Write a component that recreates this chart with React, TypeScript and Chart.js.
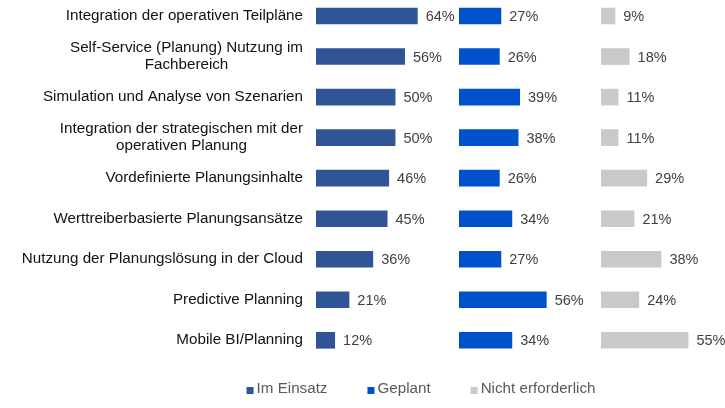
import React, { useEffect, useRef } from "react";
import { Chart, registerables } from "chart.js";

Chart.register(...registerables);

const categories: (string | string[])[] = [
  "Integration der operativen Teilpläne",
  ["Self-Service (Planung) Nutzung im", "Fachbereich"],
  "Simulation und Analyse von Szenarien",
  ["Integration der strategischen mit der", "operativen Planung"],
  "Vordefinierte Planungsinhalte",
  "Werttreiberbasierte Planungsansätze",
  "Nutzung der Planungslösung in der Cloud",
  "Predictive Planning",
  "Mobile BI/Planning",
];

const imEinsatz = [64, 56, 50, 50, 46, 45, 36, 21, 12];
const geplant = [27, 26, 39, 38, 26, 34, 27, 56, 34];
const nichtErforderlich = [9, 18, 11, 11, 29, 21, 38, 24, 55];

const seriesNames = ["Im Einsatz", "Geplant", "Nicht erforderlich"];
const seriesColors = ["#2F5597", "#0052CC", "#C8C9CB"];

const FONT = '"Liberation Sans", Arial, Helvetica, sans-serif';

const categoryLabelPlugin = {
  id: "categoryLabels",
  afterDraw(chart: any) {
    const ctx = chart.ctx;
    const yScale = chart.scales.y;
    const right = chart.chartArea.left - 13;
    const lineH = 17;
    ctx.save();
    ctx.font = `15.2px ${FONT}`;
    ctx.fillStyle = "#111111";
    ctx.textBaseline = "middle";
    ctx.textAlign = "center";
    categories.forEach((lab, i) => {
      const lines = Array.isArray(lab) ? lab : [lab];
      const w = Math.max(...lines.map((l) => ctx.measureText(l).width));
      const cx = right - w / 2;
      const cy = yScale.getPixelForValue(i);
      const y0 = cy - ((lines.length - 1) * lineH) / 2;
      lines.forEach((l, k) => ctx.fillText(l, cx, y0 + k * lineH));
    });
    ctx.restore();
  },
};

const dataLabelPlugin = {
  id: "dataLabels",
  afterDatasetsDraw(chart: any) {
    const ctx = chart.ctx;
    ctx.save();
    ctx.font = `14.5px ${FONT}`;
    ctx.fillStyle = "#404040";
    ctx.textBaseline = "middle";
    ctx.textAlign = "left";
    chart.data.datasets.forEach((ds: any, i: number) => {
      const meta = chart.getDatasetMeta(i);
      meta.data.forEach((bar: any, j: number) => {
        const { x, y } = bar.getProps(["x", "y"], true);
        ctx.fillText(`${ds.data[j]}%`, x + 8, y + 1);
      });
    });
    ctx.restore();
  },
};

const legendPlugin = {
  id: "customLegend",
  afterDraw(chart: any) {
    const ctx = chart.ctx;
    const centerX = 421;
    const baseline = 393;
    const box = 7;
    const gap = 3;
    const spacing = 40;
    ctx.save();
    ctx.font = `15.2px ${FONT}`;
    const widths = chart.data.datasets.map((ds: any) => ctx.measureText(ds.label).width);
    const total =
      widths.reduce((a: number, b: number) => a + b, 0) +
      widths.length * (box + gap) +
      (widths.length - 1) * spacing;
    let x = centerX - total / 2;
    ctx.textBaseline = "alphabetic";
    ctx.textAlign = "left";
    chart.data.datasets.forEach((ds: any, i: number) => {
      ctx.fillStyle = ds.backgroundColor;
      ctx.fillRect(x, baseline - 6, box, box);
      x += box + gap;
      ctx.fillStyle = "#595959";
      ctx.fillText(ds.label, x, baseline);
      x += widths[i] + spacing;
    });
    ctx.restore();
  },
};

export default function App() {
  const ref = useRef<HTMLCanvasElement | null>(null);

  useEffect(() => {
    document.body.style.margin = "0";
    const values = [imEinsatz, geplant, nichtErforderlich];
    const chart = new Chart(ref.current as HTMLCanvasElement, {
      type: "bar",
      data: {
        labels: categories as any,
        datasets: values.map((v, i) => ({
          label: seriesNames[i],
          data: v,
          backgroundColor: seriesColors[i],
          xAxisID: `x${i + 1}`,
          yAxisID: "y",
          grouped: false,
          clip: false as any,
          barPercentage: 0.41,
          categoryPercentage: 1,
        })),
      },
      options: {
        indexAxis: "y",
        animation: false,
        responsive: false,
        layout: { padding: { left: 316, right: 0, top: 16, bottom: 67.7 } },
        plugins: {
          legend: { display: false },
          tooltip: { enabled: false },
        },
        scales: {
          y: {
            type: "category",
            display: false,
            offset: false,
            grid: { display: false },
          },
          x1: {
            type: "linear",
            position: "bottom",
            display: false,
            min: 0,
            max: 90,
            stack: "panels",
            stackWeight: 143,
          },
          x2: {
            type: "linear",
            position: "bottom",
            display: false,
            min: 0,
            max: 90.7,
            stack: "panels",
            stackWeight: 142,
          },
          x3: {
            type: "linear",
            position: "bottom",
            display: false,
            min: 0,
            max: 78,
            stack: "panels",
            stackWeight: 124,
          },
        } as any,
      },
      plugins: [categoryLabelPlugin, dataLabelPlugin, legendPlugin],
    });
    return () => chart.destroy();
  }, []);

  return (
    <div style={{ width: 725, height: 408, background: "#ffffff" }}>
      <canvas ref={ref} width={725} height={408} style={{ display: "block" }} />
    </div>
  );
}
